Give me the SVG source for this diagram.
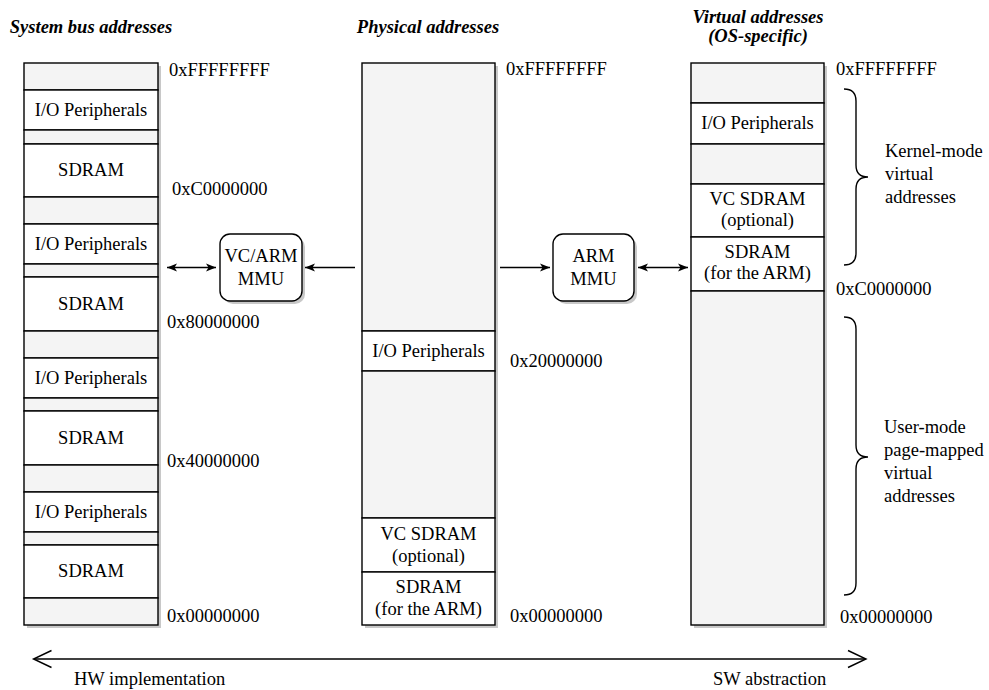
<svg xmlns="http://www.w3.org/2000/svg" width="989" height="690" viewBox="0 0 989 690">
<defs>
<marker id="ah" viewBox="0 0 10 10" refX="10" refY="5" markerWidth="10" markerHeight="10" orient="auto-start-reverse" markerUnits="userSpaceOnUse">
<path d="M0,1 L10,5 L0,9 L2.5,5 Z" fill="#000"/>
</marker>
</defs>
<style>
text{font-size:18.5px;fill:#000}
.t{font-weight:bold;font-style:italic;text-anchor:middle}
.c{text-anchor:middle}
.g{fill:#f4f4f4;stroke:#000;stroke-width:1.4}
.w{fill:#fff;stroke:#000;stroke-width:1.4}
.sh{fill:#c8c8c8}
.ln{stroke:#000;stroke-width:1.4;fill:none}
.br{stroke:#000;stroke-width:1.4;fill:none}
</style>
<rect width="989" height="690" fill="#fff"/>
<g font-family="'Liberation Serif', 'DejaVu Serif', serif">

<g id="titles">
<text class="t" x="91" y="33">System bus addresses</text>
<text class="t" x="428" y="33">Physical addresses</text>
<text class="t" x="758" y="23">Virtual addresses</text>
<text class="t" x="758" y="42">(OS-specific)</text>
</g>

<g id="system-bus-column">
<rect class="sh" x="27" y="66" width="134" height="562"/>
<rect class="g" x="24" y="63" width="134" height="27"/>
<rect class="w" x="24" y="90" width="134" height="40"/>
<rect class="g" x="24" y="130" width="134" height="14"/>
<rect class="w" x="24" y="144" width="134" height="53"/>
<rect class="g" x="24" y="197" width="134" height="27"/>
<rect class="w" x="24" y="224" width="134" height="40"/>
<rect class="g" x="24" y="264" width="134" height="13"/>
<rect class="w" x="24" y="277" width="134" height="54"/>
<rect class="g" x="24" y="331" width="134" height="27"/>
<rect class="w" x="24" y="358" width="134" height="40"/>
<rect class="g" x="24" y="398" width="134" height="13"/>
<rect class="w" x="24" y="411" width="134" height="54"/>
<rect class="g" x="24" y="465" width="134" height="27"/>
<rect class="w" x="24" y="492" width="134" height="40"/>
<rect class="g" x="24" y="532" width="134" height="13"/>
<rect class="w" x="24" y="545" width="134" height="53"/>
<rect class="g" x="24" y="598" width="134" height="27"/>
<text class="c" x="91" y="115.5">I/O Peripherals</text>
<text class="c" x="91" y="176">SDRAM</text>
<text class="c" x="91" y="249.5">I/O Peripherals</text>
<text class="c" x="91" y="309.5">SDRAM</text>
<text class="c" x="91" y="383.5">I/O Peripherals</text>
<text class="c" x="91" y="443.5">SDRAM</text>
<text class="c" x="91" y="517.5">I/O Peripherals</text>
<text class="c" x="91" y="577">SDRAM</text>
<text x="169" y="75.5">0xFFFFFFFF</text>
<text x="172" y="195">0xC0000000</text>
<text x="167" y="328">0x80000000</text>
<text x="167" y="467">0x40000000</text>
<text x="167" y="622">0x00000000</text>
</g>

<g id="physical-column">
<rect class="sh" x="365" y="66" width="133" height="562"/>
<rect class="g" x="362" y="63" width="133" height="268"/>
<rect class="w" x="362" y="331" width="133" height="40"/>
<rect class="g" x="362" y="371" width="133" height="147"/>
<rect class="w" x="362" y="518" width="133" height="54"/>
<rect class="w" x="362" y="572" width="133" height="53"/>
<text class="c" x="428.5" y="356.5">I/O Peripherals</text>
<text class="c" x="428.5" y="539.5">VC SDRAM</text>
<text class="c" x="428.5" y="561.5">(optional)</text>
<text class="c" x="428.5" y="593">SDRAM</text>
<text class="c" x="428.5" y="615">(for the ARM)</text>
<text x="506" y="75">0xFFFFFFFF</text>
<text x="510" y="367">0x20000000</text>
<text x="510" y="622">0x00000000</text>
</g>

<g id="virtual-column">
<rect class="sh" x="694" y="66" width="133" height="562"/>
<rect class="g" x="691" y="63" width="133" height="40"/>
<rect class="w" x="691" y="103" width="133" height="41"/>
<rect class="g" x="691" y="144" width="133" height="40"/>
<rect class="w" x="691" y="184" width="133" height="53"/>
<rect class="w" x="691" y="237" width="133" height="54"/>
<rect class="g" x="691" y="291" width="133" height="334"/>
<text class="c" x="757.5" y="128.5">I/O Peripherals</text>
<text class="c" x="757.5" y="204.5">VC SDRAM</text>
<text class="c" x="757.5" y="226">(optional)</text>
<text class="c" x="757.5" y="257.5">SDRAM</text>
<text class="c" x="757.5" y="279">(for the ARM)</text>
<text x="836" y="75">0xFFFFFFFF</text>
<text x="836" y="295">0xC0000000</text>
<text x="840" y="623">0x00000000</text>
</g>

<g id="vc-arm-mmu">
<rect class="sh" x="223" y="237" width="82" height="67" rx="10"/>
<rect class="w" x="220" y="234" width="82" height="67" rx="10"/>
<text class="c" x="261" y="262">VC/ARM</text>
<text class="c" x="261" y="285">MMU</text>
</g>

<g id="arm-mmu">
<rect class="sh" x="556" y="237" width="81" height="67" rx="10"/>
<rect class="w" x="553" y="234" width="81" height="67" rx="10"/>
<text class="c" x="593.5" y="262">ARM</text>
<text class="c" x="593.5" y="285">MMU</text>
</g>

<g id="kernel-brace">
<path class="br" d="M844,89 Q856,89 856,101 L856,165 Q856,177 868,177 Q856,177 856,189 L856,253 Q856,265 844,265"/>
<text x="885" y="157">Kernel-mode</text>
<text x="885" y="180">virtual</text>
<text x="885" y="203">addresses</text>
</g>

<g id="user-brace">
<path class="br" d="M844,317 Q856,317 856,329 L856,445 Q856,457 868,457 Q856,457 856,469 L856,583 Q856,595 844,595"/>
<text x="884" y="433">User-mode</text>
<text x="884" y="456">page-mapped</text>
<text x="884" y="479">virtual</text>
<text x="884" y="502">addresses</text>
</g>

<g id="connectors">
<line class="ln" x1="167" y1="267.5" x2="216" y2="267.5" marker-start="url(#ah)" marker-end="url(#ah)"/>
<line class="ln" x1="355" y1="267.5" x2="305" y2="267.5" marker-end="url(#ah)"/>
<line class="ln" x1="500" y1="267.5" x2="550" y2="267.5" marker-end="url(#ah)"/>
<line class="ln" x1="638" y1="267.5" x2="688" y2="267.5" marker-start="url(#ah)" marker-end="url(#ah)"/>
<line class="ln" x1="34" y1="659" x2="865" y2="659"/>
<polyline class="ln" points="51.5,650.5 33.5,659 51.5,667.5"/>
<polyline class="ln" points="848,650.5 866,659 848,667.5"/>
</g>

<g id="bottom-labels">
<text x="74" y="685">HW implementation</text>
<text x="713" y="685">SW abstraction</text>
</g>
</g>
</svg>
